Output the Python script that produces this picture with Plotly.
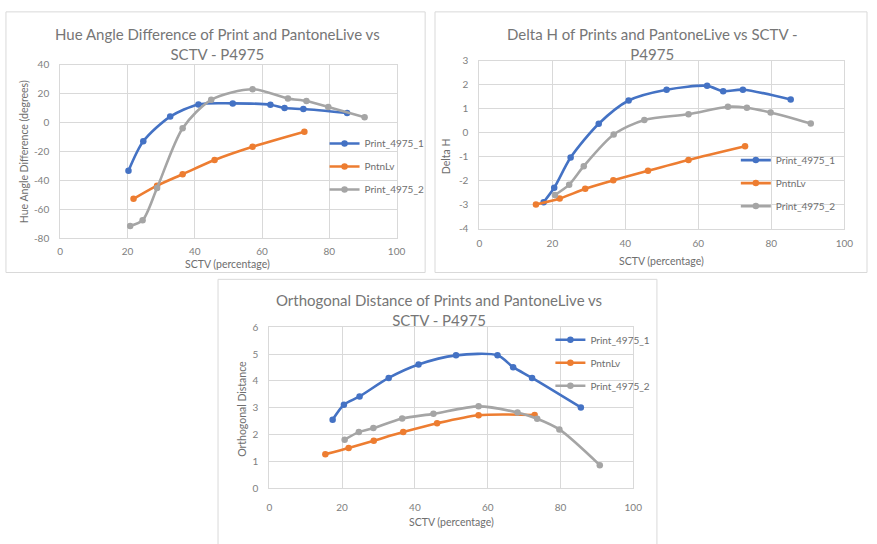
import plotly.graph_objects as go

W, H = 877, 544

# ---------------- data ----------------
series_names = ["Print_4975_1", "PntnLv", "Print_4975_2"]
colors = ["#4472C4", "#ED7D31", "#A5A5A5"]

# Chart 1: Hue angle difference
hue_p1_x = [20.3, 24.7, 32.7, 41.1, 51.3, 62.5, 66.7, 72.3, 85.3]
hue_p1_y = [-33.4, -13.0, 4.1, 12.5, 13.2, 12.3, 10.0, 9.3, 6.6]
hue_pl_x = [21.8, 28.8, 36.4, 45.9, 57.2, 72.6]
hue_pl_y = [-52.7, -43.6, -35.7, -25.9, -16.8, -6.4]
hue_p2_x = [20.8, 24.5, 28.8, 36.4, 44.9, 57.2, 67.7, 73.2, 79.7, 90.5]
hue_p2_y = [-71.4, -67.5, -45.2, -3.9, 15.7, 23.0, 16.6, 14.8, 10.7, 3.6]

# Chart 2: Delta H
dh_p1_x = [17.6, 20.5, 25.0, 32.7, 40.9, 51.3, 62.4, 66.8, 72.2, 85.3]
dh_p1_y = [-2.90, -2.30, -1.04, 0.37, 1.34, 1.79, 1.95, 1.73, 1.79, 1.38]
dh_pl_x = [15.5, 22.0, 29.0, 36.7, 46.2, 57.3, 72.8]
dh_pl_y = [-3.00, -2.75, -2.34, -1.99, -1.59, -1.14, -0.57]
dh_p2_x = [20.7, 24.6, 28.6, 36.8, 45.2, 57.3, 68.1, 73.3, 79.8, 90.8]
dh_p2_y = [-2.60, -2.17, -1.40, -0.08, 0.53, 0.77, 1.08, 1.04, 0.84, 0.38]

# Chart 3: Orthogonal distance
od_p1_x = [17.4, 20.5, 24.8, 32.8, 41.0, 51.3, 62.7, 67.0, 72.2, 85.6]
od_p1_y = [2.55, 3.11, 3.42, 4.11, 4.61, 4.95, 4.95, 4.51, 4.11, 3.01]
od_pl_x = [15.4, 21.8, 28.7, 36.8, 46.1, 57.5, 72.9]
od_pl_y = [1.27, 1.50, 1.77, 2.09, 2.42, 2.72, 2.73]
od_p2_x = [20.7, 24.6, 28.6, 36.5, 45.1, 57.5, 68.2, 73.6, 79.7, 90.8]
od_p2_y = [1.81, 2.09, 2.24, 2.60, 2.77, 3.05, 2.82, 2.59, 2.19, 0.86]

titles = [
    "Hue Angle Difference of Print and PantoneLive vs<br>SCTV - P4975",
    "Delta H of Prints and PantoneLive vs SCTV -<br>P4975",
    "Orthogonal Distance of Prints and PantoneLive vs<br>SCTV - P4975",
]
y_titles = ["Hue Angle Difference (degrees)", "Delta H", "Orthogonal Distance"]
x_title = "SCTV (percentage)"
x_ticks = [0, 20, 40, 60, 80, 100]
y_ticks = [
    [-80, -60, -40, -20, 0, 20, 40],
    [-4, -3, -2, -1, 0, 1, 2, 3],
    [0, 1, 2, 3, 4, 5, 6],
]
y_ranges = [(-80, 40), (-4, 3), (0, 6)]

charts = [
    [(hue_p1_x, hue_p1_y), (hue_pl_x, hue_pl_y), (hue_p2_x, hue_p2_y)],
    [(dh_p1_x, dh_p1_y), (dh_pl_x, dh_pl_y), (dh_p2_x, dh_p2_y)],
    [(od_p1_x, od_p1_y), (od_pl_x, od_pl_y), (od_p2_x, od_p2_y)],
]

# ---------------- layout (pixel geometry) ----------------
def px(x):
    return x / W

def py(y):
    return 1 - y / H

FONT = "Lato"
TITLE_C = "#767676"
TICK_C = "#808080"
AXT_C = "#6E6E6E"
GRID = "#D9D9D9"

# plot areas in px: (left, right, top, bottom)
plot_px = [(58, 399, 59, 237), (483, 853, 55, 227), (270, 639, 328, 493)]
# chart frames in px
frame_px = [(3, 428, 5, 272), (438, 876, 5, 272), (218, 663, 279, 560)]
# title centre (x, y)
title_px = [(217, 38), (658, 38), (442, 310)]
xtitle_px = [(228, 263), (668, 260), (455, 528)]
ytitle_px = [(22, 148), (450, 153), (242, 412)]
legend_px = [(326, 125), (743, 142), (555, 326)]
x_standoff = [4, 5, 10]

fig = go.Figure()
for ci, chart in enumerate(charts):
    suffix = "" if ci == 0 else str(ci + 1)
    for si, (xs, ys) in enumerate(chart):
        fig.add_trace(go.Scatter(
            x=xs, y=ys, name=series_names[si],
            mode="lines+markers",
            line=dict(color=colors[si], width=2.6, shape="spline", smoothing=0.8),
            marker=dict(color=colors[si], size=6.5, symbol="circle"),
            xaxis="x" + suffix, yaxis="y" + suffix,
            legend="legend" + suffix,
            legendgroup=f"c{ci}s{si}",
        ))

layout = dict(
    width=W, height=H,
    margin=dict(l=0, r=0, t=0, b=0),
    paper_bgcolor="white", plot_bgcolor="white",
    font=dict(family=FONT, color=TICK_C, size=10),
    showlegend=True,
)
annotations = []
shapes = []
for ci in range(3):
    suffix = "" if ci == 0 else str(ci + 1)
    l, r, t, b = plot_px[ci]
    y0, y1 = y_ranges[ci]
    layout["xaxis" + suffix] = dict(
        domain=[px(l), px(r)], range=[0, 100],
        tickvals=x_ticks, ticktext=[str(v) for v in x_ticks],
        showgrid=True, gridcolor=GRID, gridwidth=1, zeroline=False,
        showline=True, linecolor=GRID, mirror=True, ticks="",
        ticklabelstandoff=x_standoff[ci],
        tickfont=dict(size=10, color=TICK_C, family=FONT),
        anchor="y" + suffix, fixedrange=True,
    )
    layout["yaxis" + suffix] = dict(
        domain=[py(b), py(t)], range=[y0, y1],
        tickvals=y_ticks[ci], ticktext=[str(v) for v in y_ticks[ci]],
        showgrid=True, gridcolor=GRID, gridwidth=1, zeroline=False,
        showline=True, linecolor=GRID, mirror=True, ticks="",
        ticklabelstandoff=8,
        tickfont=dict(size=10, color=TICK_C, family=FONT),
        anchor="x" + suffix, fixedrange=True,
    )
    lx, ly = legend_px[ci]
    layout["legend" + suffix] = dict(
        x=px(lx), y=py(ly), xanchor="left", yanchor="top",
        bgcolor="rgba(0,0,0,0)", borderwidth=0,
        font=dict(size=10, color=AXT_C, family=FONT),
        traceorder="grouped", tracegroupgap=4,
    )
    fx0, fx1, fy0, fy1 = frame_px[ci]
    shapes.append(dict(type="rect", xref="paper", yref="paper",
                       x0=px(fx0), x1=px(fx1), y0=py(fy1), y1=py(fy0),
                       line=dict(color=GRID, width=1), layer="below"))
    tx, ty = title_px[ci]
    annotations.append(dict(text=titles[ci], x=px(tx), y=py(ty), xref="paper", yref="paper",
                            showarrow=False, xanchor="center", yanchor="middle",
                            font=dict(size=15, color=TITLE_C, family=FONT)))
    ax, ay = xtitle_px[ci]
    annotations.append(dict(text=x_title, x=px(ax), y=py(ay), xref="paper", yref="paper",
                            showarrow=False, xanchor="center", yanchor="middle",
                            font=dict(size=10.5, color=AXT_C, family=FONT)))
    bx, by = ytitle_px[ci]
    annotations.append(dict(text=y_titles[ci], x=px(bx), y=py(by), xref="paper", yref="paper",
                            showarrow=False, xanchor="center", yanchor="middle", textangle=-90,
                            font=dict(size=10.5, color=AXT_C, family=FONT)))

layout["annotations"] = annotations
layout["shapes"] = shapes
fig.update_layout(**layout)
fig.write_html("out.html")
